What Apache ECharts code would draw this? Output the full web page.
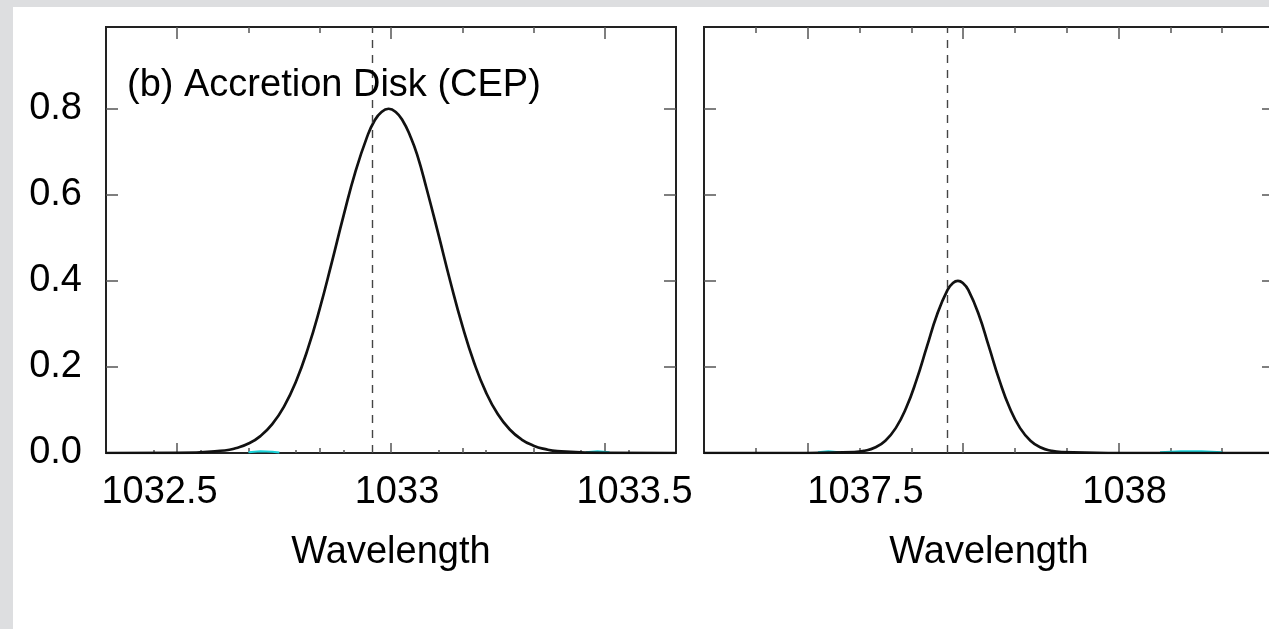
<!DOCTYPE html>
<html>
<head>
<meta charset="utf-8">
<title>(b) Accretion Disk (CEP)</title>
<script src="https://cdn.jsdelivr.net/npm/echarts@6/dist/echarts.min.js"></script>
<style>
  html, body { margin: 0; padding: 0; overflow: hidden; background: #dddee0; }
  #chart { position: absolute; left: 13px; top: 7px; width: 1300px; height: 622px; background: #fff; }
</style>
</head>
<body>
<div id="chart"></div>
<script>
// wavelength window of each panel
const leftRange = [1032.4, 1033.6]
const rightRange = [1037.2, 1038.3]

// tick labels
const leftLabels = [1032.5, 1033, 1033.5]
const rightLabels = [1037.5, 1038]
const yTicks = [0, 0.2, 0.4, 0.6, 0.8]

// tick marks (bottom fine ticks, long ticks, short ticks)
const leftFineTicks = [1032.5, 1032.6, 1032.7, 1032.8, 1032.9, 1033.0, 1033.1, 1033.2, 1033.3, 1033.4, 1033.5]
const leftMajorTicks = [1032.55, 1033.0, 1033.45]
const leftMinorTicks = [1032.7, 1032.85, 1033.15, 1033.3]
const rightFineTicks = []
const rightMajorTicks = [1037.4, 1037.7, 1038.0]
const rightMinorTicks = [1037.3, 1037.5, 1037.6, 1037.8, 1037.9, 1038.1, 1038.2]

// dashed reference lines
const leftDashed = 1032.964
const rightDashed = 1037.669

// line profile, left panel
const leftWave = [1032.4, 1032.55, 1032.65, 1032.675, 1032.7, 1032.725, 1032.75, 1032.775, 1032.8, 1032.825,
  1032.85, 1032.875, 1032.9, 1032.925, 1032.95, 1032.965, 1032.98, 1032.995, 1033.01, 1033.025,
  1033.04, 1033.055, 1033.075, 1033.1, 1033.125, 1033.15, 1033.175, 1033.2, 1033.225, 1033.25,
  1033.275, 1033.3, 1033.325, 1033.35, 1033.45, 1033.6]
const leftFlux = [0, 0.0002, 0.0058, 0.0116, 0.0219, 0.0393, 0.067, 0.1083, 0.1662, 0.2424,
  0.3355, 0.4413, 0.551, 0.6534, 0.7358, 0.7716, 0.7926, 0.8, 0.7926, 0.7716,
  0.7379, 0.6934, 0.6141, 0.5073, 0.3979, 0.2964, 0.2098, 0.1409, 0.0899, 0.0545,
  0.0313, 0.0171, 0.0089, 0.0044, 0.0002, 0]

// line profile, right panel
const rightWave = [1037.2, 1037.4, 1037.49, 1037.51, 1037.53, 1037.55, 1037.57, 1037.59, 1037.61, 1037.63,
  1037.65, 1037.67, 1037.68, 1037.69, 1037.70, 1037.71, 1037.73, 1037.75, 1037.77, 1037.79,
  1037.81, 1037.83, 1037.85, 1037.87, 1037.89, 1037.98, 1038.3]
const rightFlux = [0, 0, 0.0019, 0.0051, 0.0128, 0.0287, 0.0578, 0.1044, 0.1693, 0.2466,
  0.3226, 0.3791, 0.3946, 0.4, 0.3946, 0.3791, 0.3226, 0.2466, 0.1693, 0.1044,
  0.0578, 0.0287, 0.0128, 0.0051, 0.0019, 0, 0]

// faint cyan trace near zero
const leftCyanWave = [1032.7, 1032.725, 1032.75, 1032.765, 1033.0, 1033.41, 1033.435, 1033.46]
const leftCyanFlux = [0.002, 0.004, 0.003, 0.001, '-', 0.002, 0.004, 0.002]
const rightCyanWave = [1037.42, 1037.44, 1037.46, 1037.8, 1038.08, 1038.12, 1038.16, 1038.2]
const rightCyanFlux = [0.002, 0.004, 0.002, '-', 0.002, 0.004, 0.004, 0.002]

const pairs = (xs, ys) => xs.map((x, i) => [x, ys[i]])

const font = { fontFamily: 'Liberation Sans', fontSize: 38, color: '#000' }
const tickStyle = { color: '#555', width: 1.5 }

const panels = [
  { range: leftRange, labels: leftLabels, fine: leftFineTicks, major: leftMajorTicks, minor: leftMinorTicks,
    showY: true, left: 93, line: pairs(leftWave, leftFlux), cyan: pairs(leftCyanWave, leftCyanFlux), dashed: leftDashed },
  { range: rightRange, labels: rightLabels, fine: rightFineTicks, major: rightMajorTicks, minor: rightMinorTicks,
    showY: false, left: 691, line: pairs(rightWave, rightFlux), cyan: pairs(rightCyanWave, rightCyanFlux), dashed: rightDashed }
]

function tickAxis (gridIndex, range, pos, values, len) {
  return {
    type: 'value', gridIndex: gridIndex, position: pos, min: range[0], max: range[1],
    axisLine: { show: false }, splitLine: { show: false }, axisLabel: { show: false },
    axisTick: { show: values.length > 0, inside: true, length: len, customValues: values, lineStyle: tickStyle }
  }
}

const grid = []
const xAxis = []
const yAxis = []
const series = []

panels.forEach((p, i) => {
  const g = i * 3
  for (let k = 0; k < 3; k++) {
    grid.push({
      left: p.left, top: 20, width: 570, height: 426,
      show: k === 0, borderColor: '#222', borderWidth: 2, backgroundColor: 'transparent'
    })
  }
  // main axes: labels + fine ticks
  xAxis.push({
    type: 'value', gridIndex: g, position: 'bottom', min: p.range[0], max: p.range[1],
    axisLine: { show: false }, splitLine: { show: false },
    axisTick: { show: p.fine.length > 0, inside: true, length: 3, customValues: p.fine, lineStyle: tickStyle },
    axisLabel: Object.assign({ customValues: p.labels, margin: 21, padding: [0, 0, 0, 12], formatter: v => String(v) }, font),
    name: 'Wavelength', nameLocation: 'middle', nameGap: 81, nameTextStyle: font
  })
  xAxis.push(tickAxis(g + 1, p.range, 'bottom', p.major, 10))
  xAxis.push(tickAxis(g + 1, p.range, 'top', p.major, 12))
  xAxis.push(tickAxis(g + 2, p.range, 'bottom', p.minor, 5))
  xAxis.push(tickAxis(g + 2, p.range, 'top', p.minor, 6))

  yAxis.push({
    type: 'value', gridIndex: g, position: 'left', min: 0, max: 0.99,
    axisLine: { show: false }, splitLine: { show: false },
    axisTick: { inside: true, length: 12, customValues: yTicks, lineStyle: tickStyle },
    axisLabel: Object.assign({ show: p.showY, customValues: yTicks, margin: 24, formatter: v => v.toFixed(1) }, font)
  })
  yAxis.push(tickAxis(g + 1, [0, 0.99], 'right', yTicks, 12))
  yAxis.push(tickAxis(g + 2, [0, 0.99], 'left', [], 0))

  const xi = i * 5
  const yi = i * 3
  series.push({
    type: 'line', xAxisIndex: xi, yAxisIndex: yi, data: p.cyan, showSymbol: false, z: 3,
    lineStyle: { color: '#19d3da', width: 2 }
  })
  series.push({
    type: 'line', xAxisIndex: xi, yAxisIndex: yi, data: p.line, smooth: true, showSymbol: false, z: 4,
    lineStyle: { color: '#111', width: 2.7 },
    markLine: {
      silent: true, symbol: ['none', 'none'], label: { show: false },
      lineStyle: { color: '#444', width: 1.4, type: [8, 7] },
      data: [{ xAxis: p.dashed }]
    }
  })
})

const chart = echarts.init(document.getElementById('chart'))
chart.setOption({
  animation: false,
  title: { text: '(b) Accretion Disk (CEP)', left: 114, top: 60, padding: 0, textStyle: Object.assign({ fontWeight: 'normal' }, font) },
  grid: grid,
  xAxis: xAxis,
  yAxis: yAxis,
  series: series
})
</script>
</body>
</html>
